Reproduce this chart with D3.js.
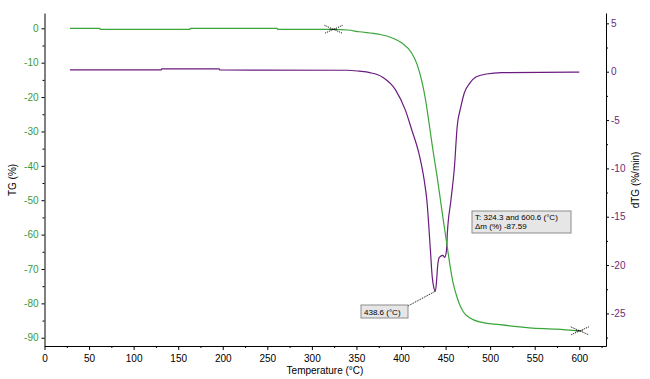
<!DOCTYPE html>
<html><head><meta charset="utf-8">
<script src="https://cdn.jsdelivr.net/npm/d3@7"></script>
<style>
body{margin:0;background:#fff;}
svg{display:block;font-family:"Liberation Sans",Arial,sans-serif;}
</style></head>
<body><svg id="c" width="650" height="379"></svg>
<script>
// TG curve (temperature °C, mass %)
const tgTemp = [28.5,62,62.5,163,163.5,261,261.5,324,340,353,375,390,401,412,418,423,427,431,435,438,441,444,447,451,455,458,462,466,470,477,488,511,544,574,600.6];
const tgVal  = [0,0,-0.3,-0.3,0,0,-0.3,-0.3,-0.5,-1.0,-1.7,-2.8,-4.3,-7.2,-10.5,-15,-20,-26.7,-34,-39,-44,-49.5,-55,-62,-69,-73.5,-77.5,-80.5,-82.5,-84.2,-85.4,-86.2,-87.1,-87.5,-88];
// DTG curve (temperature °C, %/min)
const dtgTemp = [28.5,131,131.5,196,196.5,340,353,365,379,394,405,412,420,426,429,433,435,437,438.6,440,441,443,447,449,451,452,456,460,463,467,471,477,484,496,513,600];
const dtgVal  = [0.18,0.18,0.3,0.3,0.18,0.15,0.05,-0.1,-0.55,-1.9,-4,-6,-8.4,-11.2,-13.3,-18.5,-21.2,-22.4,-22.7,-21.5,-20.2,-19.2,-19.0,-19.2,-18.5,-16.7,-13.3,-9.8,-5.7,-3.7,-2.2,-1.2,-0.55,-0.24,-0.1,-0.05];
// ticks
const xTicks = [0,50,100,150,200,250,300,350,400,450,500,550,600];
const yLeftTicks = [0,-10,-20,-30,-40,-50,-60,-70,-80,-90];
const yRightTicks = [5,0,-5,-10,-15,-20,-25];
// annotations
const markerTemps = [324.3, 600.6];
const peakTemp = 438.6;
const peakVal = -22.7;
const infoLines = ["T: 324.3 and 600.6 (°C)", "Δm (%) -87.59"];
const peakLabel = "438.6 (°C)";

const green = "#3aa53a", purple = "#6a1b7e", tgText = "#3a9a3a", dtgText = "#6a2a7a";
const svg = d3.select("#c");
const x = d3.scaleLinear().domain([0, 630]).range([44.5, 606]);
const yL = d3.scaleLinear().domain([4.45, -92.4]).range([13, 346]);
const yR = d3.scaleLinear().domain([6.07, -28.37]).range([13, 346]);

// axes
const gx = svg.append("g").attr("transform","translate(0,346)")
  .call(d3.axisBottom(x).tickValues(xTicks).tickSize(4).tickSizeOuter(0).tickFormat(d=>String(d)));
const gxm = svg.append("g").attr("transform","translate(0,346)")
  .call(d3.axisBottom(x).tickValues(d3.range(25,630,50)).tickSize(2).tickFormat(""));
gxm.select(".domain").remove();
gx.selectAll("text").attr("fill","#000").attr("dy","0.9em");

const gl = svg.append("g").attr("transform","translate(44.5,0)")
  .call(d3.axisLeft(yL).tickValues(yLeftTicks).tickSize(3).tickSizeOuter(0).tickFormat(d=>String(d)));
const glm = svg.append("g").attr("transform","translate(44.5,0)")
  .call(d3.axisLeft(yL).tickValues(d3.range(-5,-95,-10)).tickSize(2).tickFormat(""));
glm.select(".domain").remove();
gl.selectAll("text").attr("fill",tgText).attr("x",-6);

const gr = svg.append("g").attr("transform","translate(606,0)")
  .call(d3.axisRight(yR).tickValues(yRightTicks).tickSize(3).tickSizeOuter(0).tickFormat(d=>String(d)));
const grm = svg.append("g").attr("transform","translate(606,0)")
  .call(d3.axisRight(yR).tickValues([2.5,-2.5,-7.5,-12.5,-17.5,-22.5,-27.5]).tickSize(2).tickFormat(""));
grm.select(".domain").remove();
gr.selectAll("text").attr("fill",dtgText).attr("x",5);

svg.selectAll(".tick text").attr("font-size",10).attr("font-family","Liberation Sans, Arial, sans-serif");
svg.selectAll(".domain").attr("stroke","#000");

// axis titles
svg.append("text").attr("x",325).attr("y",374).attr("text-anchor","middle").attr("font-size",10).text("Temperature (°C)");
svg.append("text").attr("transform","translate(16,180) rotate(-90)").attr("text-anchor","middle").attr("font-size",10).text("TG (%)");
svg.append("text").attr("transform","translate(639,180) rotate(-90)").attr("text-anchor","middle").attr("font-size",10).text("dTG (%/min)");

// curves
const tgData = tgTemp.map((t,i)=>[t,tgVal[i]]);
const dtgData = dtgTemp.map((t,i)=>[t,dtgVal[i]]);
svg.append("path").datum(dtgData).attr("fill","none").attr("stroke",purple).attr("stroke-width",1.2)
  .attr("d", d3.line().x(d=>x(d[0])).y(d=>yR(d[1])).curve(d3.curveMonotoneX));
svg.append("path").datum(tgData).attr("fill","none").attr("stroke",green).attr("stroke-width",1.2)
  .attr("d", d3.line().x(d=>x(d[0])).y(d=>yL(d[1])).curve(d3.curveMonotoneX));

// markers on TG curve
const tgAt = t => { for(let i=1;i<tgTemp.length;i++){ if(t<=tgTemp[i]){ const f=(t-tgTemp[i-1])/(tgTemp[i]-tgTemp[i-1]); return tgVal[i-1]+f*(tgVal[i]-tgVal[i-1]); } } return tgVal[tgVal.length-1]; };
markerTemps.forEach(t=>{
  const cx = x(t), cy = yL(tgAt(t));
  const g = svg.append("g").attr("stroke","#000").attr("stroke-width",1).attr("stroke-dasharray","1,1").attr("fill","none");
  g.append("path").attr("d",`M${cx-9},${cy-4}L${cx},${cy}L${cx-9},${cy+4}`);
  g.append("path").attr("d",`M${cx+9},${cy-4}L${cx},${cy}L${cx+9},${cy+4}`);
  g.append("path").attr("d",`M${cx-4},${cy}L${cx+4},${cy}`);
});

// info box
const bx = 472, by = 211;
svg.append("rect").attr("x",bx).attr("y",by).attr("width",99).attr("height",22).attr("fill","#e6e6e6").attr("stroke","#8c8c8c");
infoLines.forEach((s,i)=>svg.append("text").attr("x",bx+3).attr("y",by+9+i*9).attr("font-size",8).text(s));

// peak label
const px = x(peakTemp), py = yR(peakVal);
svg.append("line").attr("x1",408).attr("y1",306).attr("x2",px).attr("y2",py).attr("stroke","#000").attr("stroke-dasharray","1,1");
svg.append("rect").attr("x",361).attr("y",305).attr("width",47).attr("height",13).attr("fill","#e6e6e6").attr("stroke","#8c8c8c");
svg.append("text").attr("x",364).attr("y",314.5).attr("font-size",8).text(peakLabel);
</script></body></html>
